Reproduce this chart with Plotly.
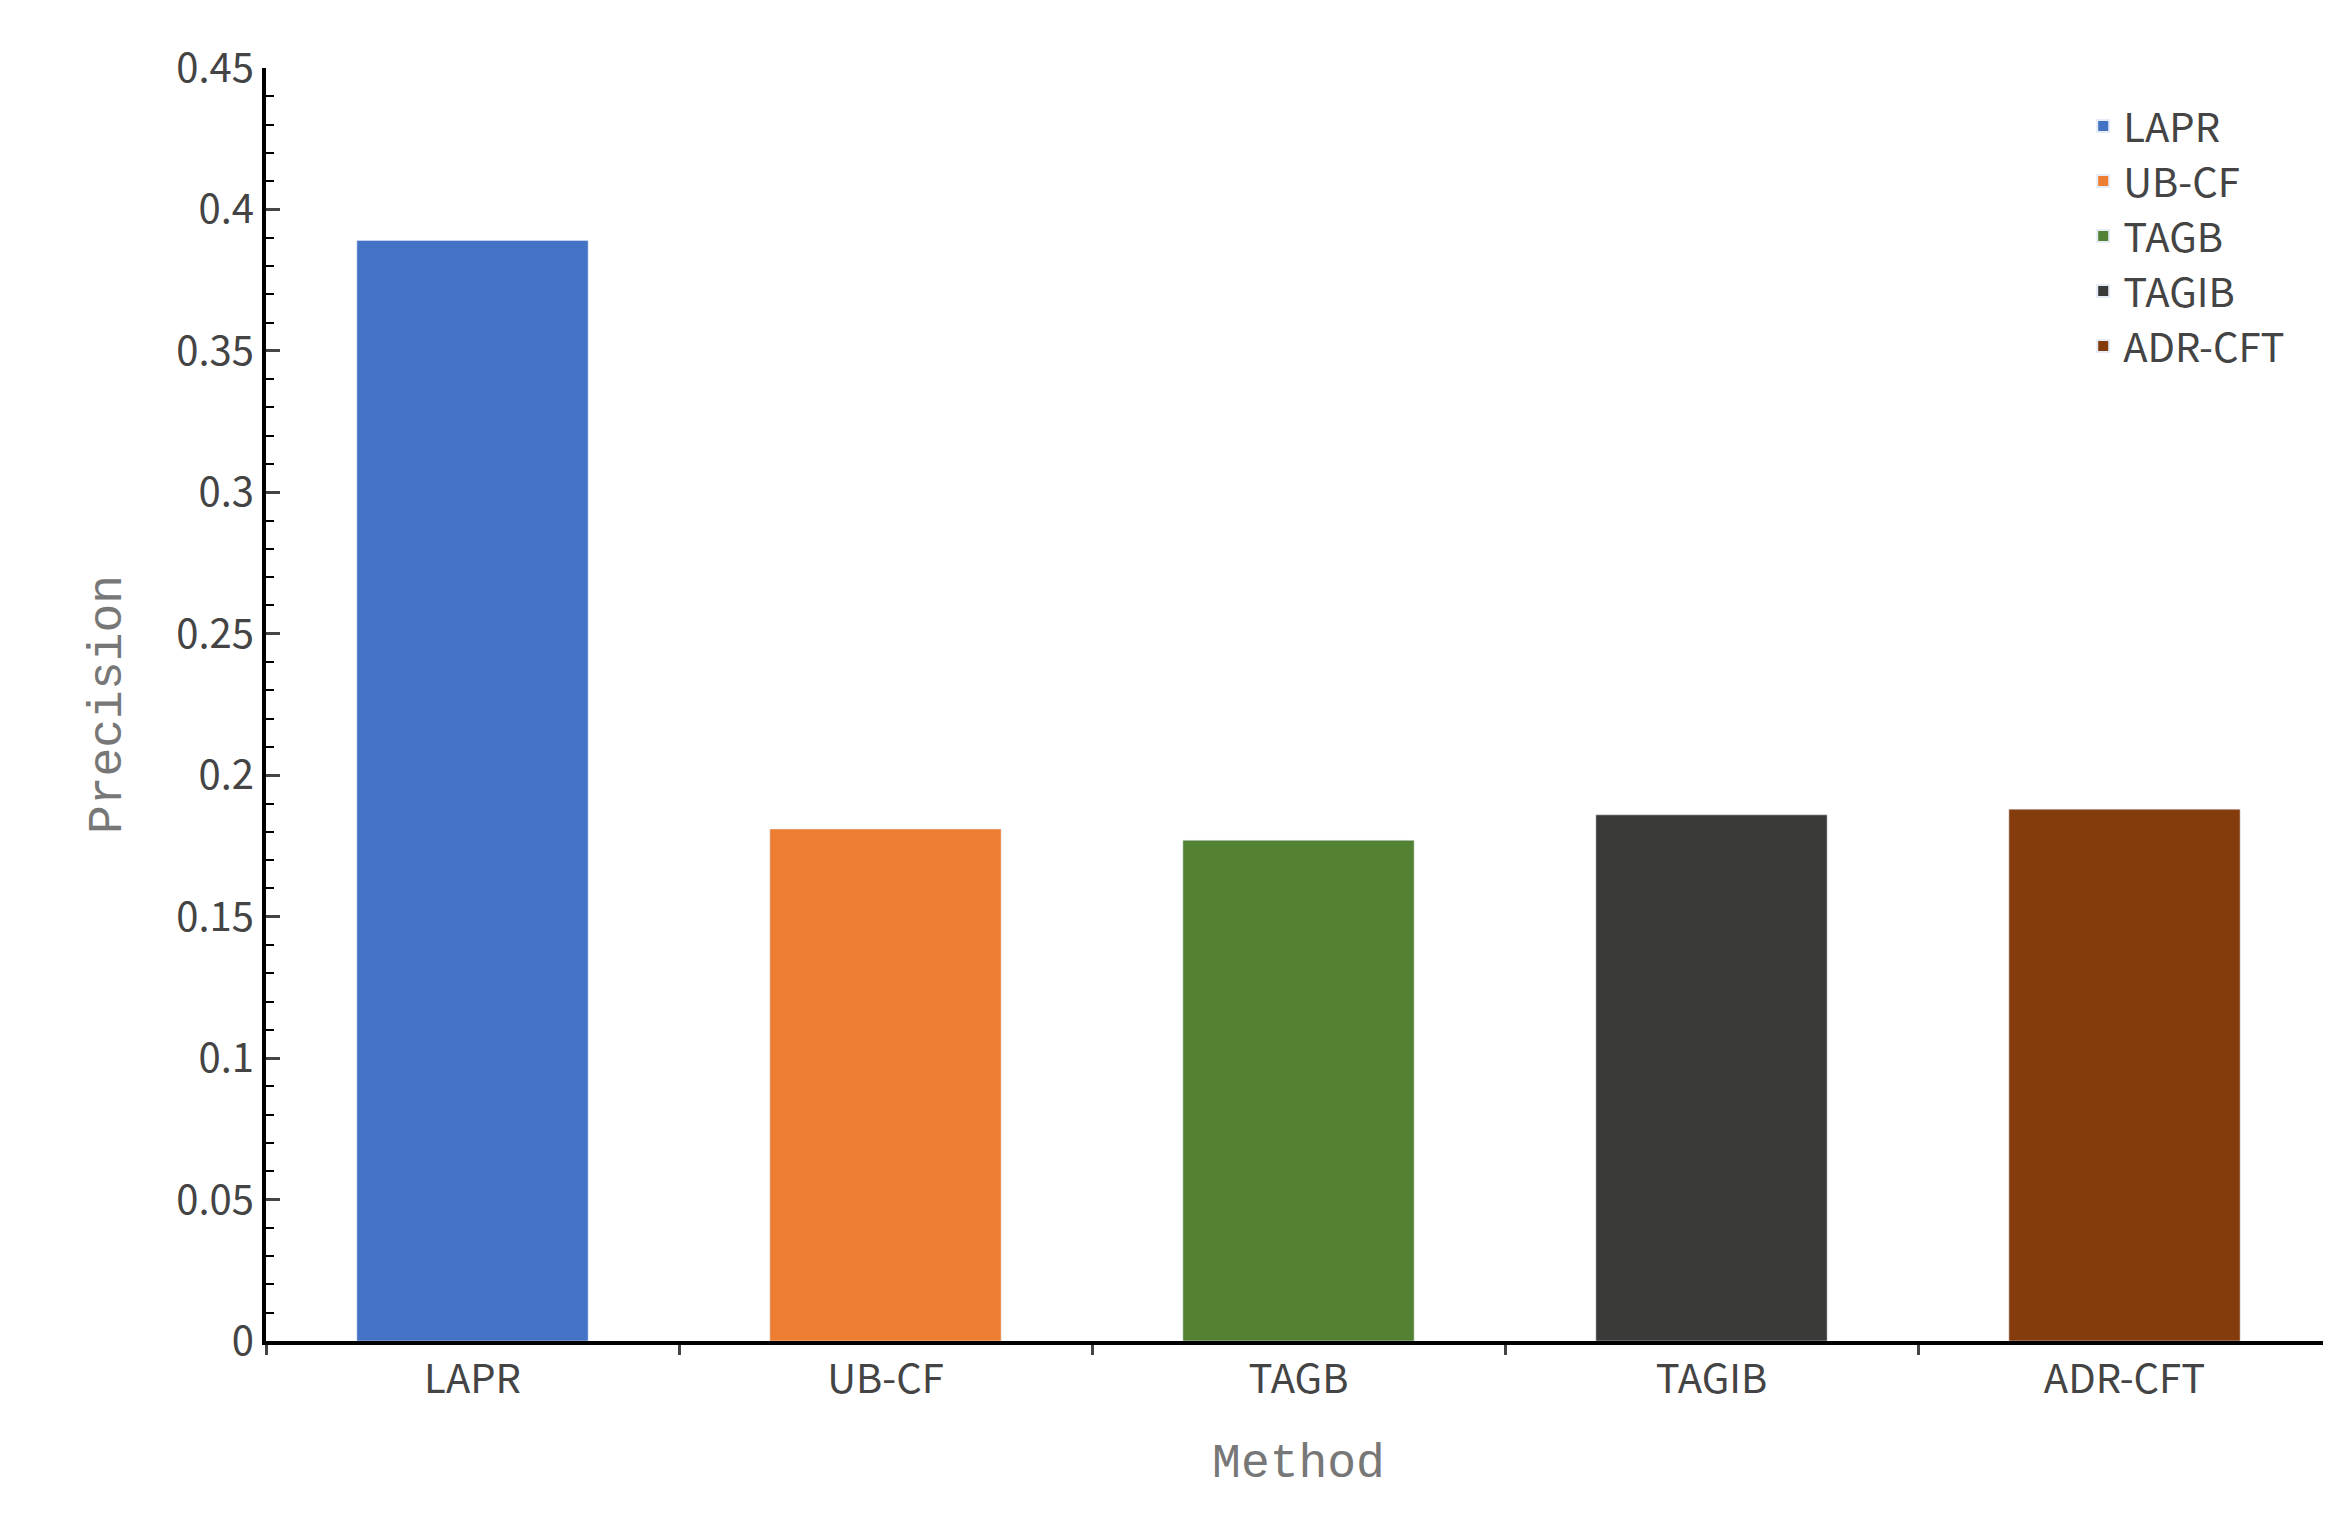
import plotly.graph_objects as go

methods = ["LAPR", "UB-CF", "TAGB", "TAGIB", "ADR-CFT"]
precision = [0.389, 0.181, 0.177, 0.186, 0.188]
colors = ["#4472C4", "#ED7D31", "#548235", "#3A3A38", "#843C0C"]

fig = go.Figure()
for m, v, c in zip(methods, precision, colors):
    fig.add_trace(go.Bar(x=[m], y=[v], name=m, marker_color=c, width=0.56))

fig.update_layout(
    width=2331, height=1528, barmode="overlay",
    plot_bgcolor="white", paper_bgcolor="white",
    margin=dict(l=258, r=8, t=60, b=195),
    font=dict(family="Noto Sans CJK SC, Noto Sans", size=40, color="#444"),
    legend=dict(x=0.88, y=0.98, xanchor="left", yanchor="top",
                font=dict(size=40, color="#444"), itemsizing="constant",
                tracegroupgap=30, bgcolor="rgba(0,0,0,0)"),
    xaxis=dict(title=dict(text="Method", font=dict(family="Liberation Mono", size=48, color="#777"), standoff=40),
               tickson="boundaries", ticks="outside", ticklen=10, tickwidth=3,
               showline=True, linecolor="black", linewidth=4, range=[-0.5, 4.5]),
    yaxis=dict(title=dict(text="Precision", font=dict(family="Liberation Mono", size=48, color="#777"), standoff=40),
               range=[0, 0.45], dtick=0.05, tickformat="~g",
               ticks="inside", ticklen=14, tickwidth=3,
               minor=dict(dtick=0.01, ticks="inside", ticklen=8, tickwidth=2, tickcolor="black"),
               showline=True, linecolor="black", linewidth=4, showgrid=False, zeroline=False),
)
fig.write_html("out.html")
